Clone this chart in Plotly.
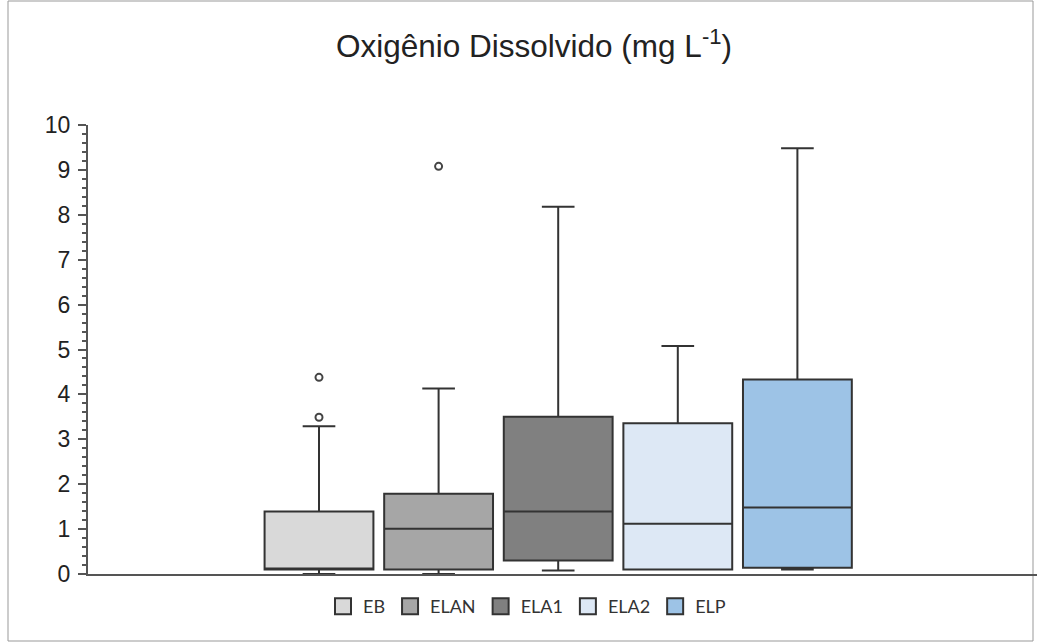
import plotly.graph_objects as go

# ---- data ----
sites = ["EB", "ELAN", "ELA1", "ELA2", "ELP"]
q1 = [0.10, 0.10, 0.30, 0.10, 0.14]
median = [0.10, 1.01, 1.39, 1.12, 1.48]
q3 = [1.39, 1.79, 3.50, 3.36, 4.33]
lower = [0.00, 0.00, 0.08, 0.10, 0.10]
upper = [3.29, 4.13, 8.18, 5.08, 9.48]
outliers = {"EB": [3.49, 4.38], "ELAN": [9.08]}
colors = ["#d9d9d9", "#a6a6a6", "#808080", "#dde8f5", "#9dc3e6"]
y_ticks = list(range(0, 11))

W, H = 1041, 644
L, R, T, B = 88, 4, 125, 70

fig = go.Figure()
for i, s in enumerate(sites):
    fig.add_trace(go.Box(
        name=s, x=[i], q1=[q1[i]], median=[median[i]], q3=[q3[i]],
        lowerfence=[lower[i]], upperfence=[upper[i]],
        width=0.91, whiskerwidth=0.3,
        fillcolor=colors[i], line=dict(color="#333333", width=2),
        boxpoints=False, showlegend=False, legendgroup=s,
    ))
    if s in outliers:
        fig.add_trace(go.Scatter(
            x=[i] * len(outliers[s]), y=outliers[s], mode="markers",
            marker=dict(symbol="circle-open", size=7, color="#444444",
                        line=dict(width=2, color="#444444")),
            showlegend=False, hoverinfo="y", legendgroup=s,
        ))
# legend entries with square swatches
for i, s in enumerate(sites):
    fig.add_trace(go.Scatter(
        x=[None], y=[None], mode="markers", name=s, legendgroup=s,
        marker=dict(symbol="square", size=16, color=colors[i],
                    line=dict(width=2, color="#333333")),
    ))

pw = W - L - R
ph = H - T - B
fig.update_layout(
    width=W, height=H,
    margin=dict(l=L, r=R, t=T, b=B),
    paper_bgcolor="white", plot_bgcolor="white",
    boxmode="overlay",
    title=dict(text="Oxigênio Dissolvido (mg L<sup>-1</sup>)",
               font=dict(family="Liberation Sans, Arial", size=31.5, color="#222222"),
               xref="container", x=534 / W, xanchor="center",
               yref="container", y=1 - 46 / H, yanchor="middle"),
    xaxis=dict(range=[(L - 319) / 119.6, (W - R - 319) / 119.6],
               showticklabels=False, ticks="", showgrid=False, zeroline=False,
               showline=True, linecolor="#555555", linewidth=2),
    yaxis=dict(range=[0, 10], tickvals=y_ticks, ticks="outside", ticklen=8,
               tickwidth=1.5, tickcolor="#555555", ticklabelstandoff=3,
               minor=dict(dtick=0.2, ticks="outside", ticklen=4, tickwidth=1.5,
                          tickcolor="#555555", showgrid=False),
               showgrid=False, zeroline=False, showline=True,
               linecolor="#555555", linewidth=2,
               tickfont=dict(family="Liberation Sans, Arial", size=23, color="#222222")),
    legend=dict(orientation="h", x=(527 - L) / pw, xanchor="center",
                y=-(588 - (H - B)) / ph, yanchor="top",
                font=dict(family="Lato, Open Sans", size=18, color="#333333"),
                itemwidth=30, traceorder="normal"),
    shapes=[dict(type="rect", xref="paper", yref="paper",
                 x0=(8 - L) / pw, x1=(1033 - L) / pw,
                 y0=-(641 - (H - B)) / ph, y1=((H - B) - 1) / ph,
                 line=dict(color="#999999", width=1), layer="below")],
)

fig.write_html("out.html")
